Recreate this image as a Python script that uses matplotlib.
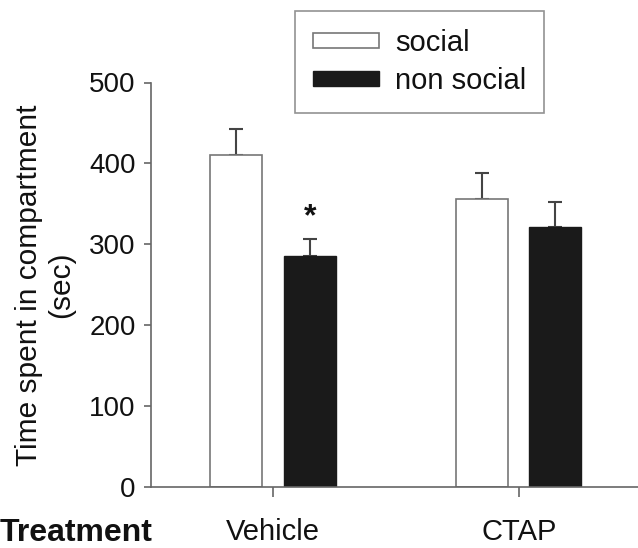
import numpy as np
import matplotlib
matplotlib.use("Agg")
import matplotlib.pyplot as plt

plt.rcParams['font.family'] = ['Liberation Sans', 'DejaVu Sans']

groups = ['Vehicle', 'CTAP']
social = [411, 356]
social_err = [31, 32]
nonsocial = [286, 322]
nonsocial_err = [21, 30]
sig = [True, False]  # * over non social

fig = plt.figure(figsize=(6.38, 5.48), dpi=100)
ax = fig.add_axes([151/638, 1 - 487/548, 1 - 151/638, (487 - 82.5)/548])

x = np.arange(len(groups))
w = 0.212
edge = '#777777'

ax.bar(x - 0.151, social, w, color='white', edgecolor=edge, linewidth=1.2, label='social', zorder=2)
ax.bar(x + 0.149, nonsocial, w, color='#1a1a1a', edgecolor='#1a1a1a', linewidth=1.0, label='non social', zorder=2)

ax.errorbar(x - 0.151, social, yerr=[np.zeros(len(social)), social_err], fmt='none',
            ecolor='#444444', elinewidth=1.5, capsize=4.8, capthick=1.5, zorder=1)
ax.errorbar(x + 0.149, nonsocial, yerr=[np.zeros(len(nonsocial)), nonsocial_err], fmt='none',
            ecolor='#444444', elinewidth=1.5, capsize=4.8, capthick=1.5, zorder=1)

for i, s in enumerate(sig):
    if s:
        ax.text(x[i] + 0.149, nonsocial[i] + nonsocial_err[i] + 16, '*', ha='center', va='baseline',
                fontsize=23, fontweight='bold', color='#111111')

ax.set_xlim(-0.498, 1.486)
ax.set_ylim(0, 500)
ax.set_yticks([0, 100, 200, 300, 400, 500])
ax.set_xticks(x)
ax.set_xticklabels(groups)

for sp in ['top', 'right']:
    ax.spines[sp].set_visible(False)
for sp in ['left', 'bottom']:
    ax.spines[sp].set_color('#666666')
    ax.spines[sp].set_linewidth(1.2)

ax.tick_params(axis='y', direction='out', length=5, width=1.2, color='#666666',
               labelsize=20, labelcolor='#111111', pad=6)
ax.tick_params(axis='x', direction='out', length=7, width=1.2, color='#666666',
               labelsize=21, labelcolor='#111111', pad=15)

fig.text(45/638, 1 - 285/548, 'Time spent in compartment\n(sec)', rotation=90,
         ha='center', va='center', multialignment='center', fontsize=21.5, color='#111111',
         linespacing=1.22)
fig.text(0.0, 1 - 533/548, 'Treatment', ha='left', va='center', fontsize=23,
         fontweight='bold', color='#111111')

leg = ax.legend(loc='upper left', bbox_to_anchor=(295/638, 1 - 11/548), bbox_transform=fig.transFigure,
                fontsize=21, frameon=True, fancybox=False, borderaxespad=0, borderpad=0.62,
                handlelength=2.25, handleheight=0.42, handletextpad=0.55, labelspacing=0.33)
leg.get_frame().set_edgecolor('#777777')
leg.get_frame().set_linewidth(1.2)
for t in leg.get_texts():
    t.set_color('#111111')

fig.savefig('out.png', dpi=100)
